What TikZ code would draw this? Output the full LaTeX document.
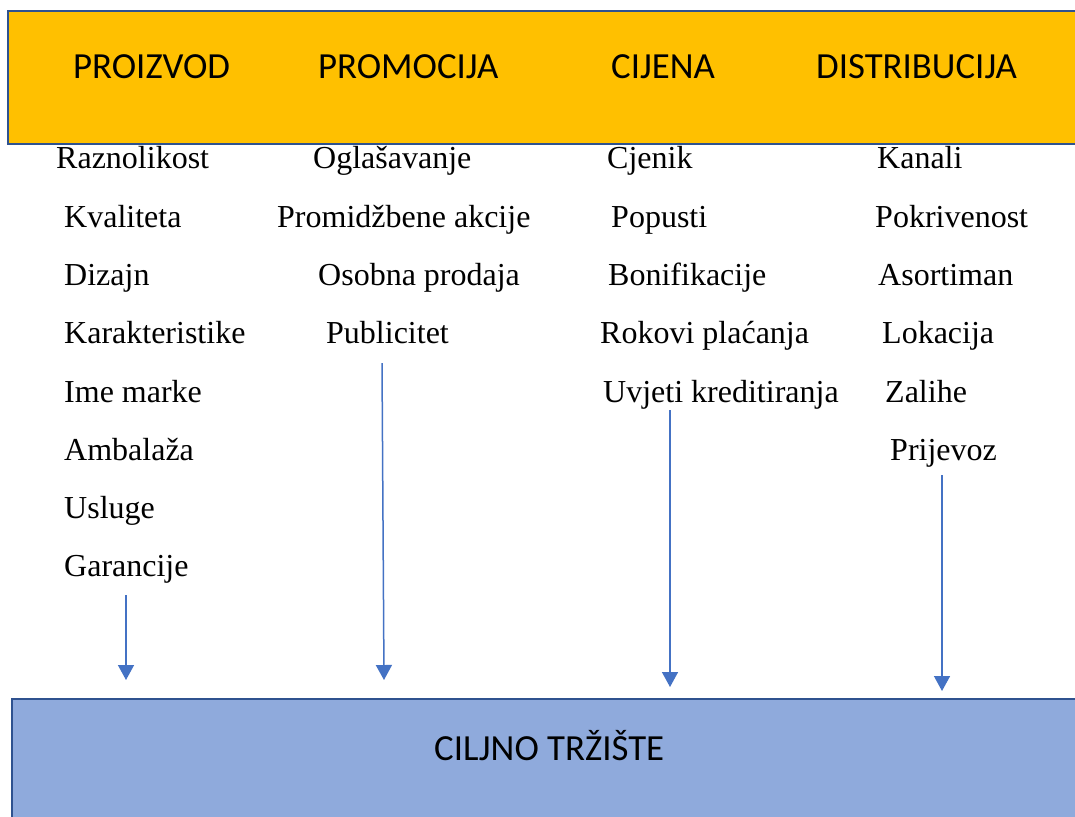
\documentclass[tikz,border=0pt]{standalone}
\usepackage{fontspec}
\setmainfont{Liberation Serif}
\newfontfamily\headfont{Carlito}
\usetikzlibrary{arrows.meta}
\definecolor{boxorange}{HTML}{FFC000}
\definecolor{boxblue}{HTML}{8FAADC}
\definecolor{boxline}{HTML}{2F528F}
\definecolor{arrowblue}{HTML}{4472C4}
\tikzset{
  head/.style={anchor=base west, inner sep=0pt, font=\headfont\fontsize{36.8}{40}\selectfont},
  item/.style={anchor=base west, inner sep=0pt, font=\fontsize{32}{36}\selectfont},
  band/.style={draw=boxline, line width=2.5pt},
  flow/.style={draw=arrowblue, line width=1.5pt, -{Triangle[width=16pt,length=15pt]}}
}
\begin{document}
\begin{tikzpicture}[x=1pt,y=-1pt]
\useasboundingbox (0,0) rectangle (1075,816);
\clip (0,0) rectangle (1075,816);
\fill[white] (0,0) rectangle (1075,816);
% top band
\draw[band, fill=boxorange] (8,11) rectangle (1090,144);
\node[head] (h1) at (73,78) {PROIZVOD};
\node[head] (h2) at (318,78) {PROMOCIJA};
\node[head] (h3) at (611,78) {CIJENA};
\node[head] (h4) at (816,78) {DISTRIBUCIJA};
% bottom band
\draw[band, fill=boxblue] (12,699) rectangle (1090,840);
\node[head] (target) at (434,760) {CILJNO TRŽIŠTE};
% column 1
\node[item] (a1) at (56,168) {Raznolikost};
\node[item] (a2) at (64,227) {Kvaliteta};
\node[item] (a3) at (64,285) {Dizajn};
\node[item] (a4) at (64,343) {Karakteristike};
\node[item] (a5) at (64,402) {Ime marke};
\node[item] (a6) at (64,460) {Ambalaža};
\node[item] (a7) at (64,518) {Usluge};
\node[item] (a8) at (64,576) {Garancije};
% column 2
\node[item] (b1) at (313,168) {Oglašavanje};
\node[item] (b2) at (277,227) {Promidžbene akcije};
\node[item] (b3) at (318,285) {Osobna prodaja};
\node[item] (b4) at (326,343) {Publicitet};
% column 3
\node[item] (c1) at (607,168) {Cjenik};
\node[item] (c2) at (611,227) {Popusti};
\node[item] (c3) at (608,285) {Bonifikacije};
\node[item] (c4) at (600,343) {Rokovi plaćanja};
\node[item] (c5) at (603,402) {Uvjeti kreditiranja};
% column 4
\node[item] (d1) at (877,168) {Kanali};
\node[item] (d2) at (875,227) {Pokrivenost};
\node[item] (d3) at (878,285) {Asortiman};
\node[item] (d4) at (882,343) {Lokacija};
\node[item] (d5) at (885,402) {Zalihe};
\node[item] (d6) at (890,460) {Prijevoz};
% arrows
\coordinate (s1) at (126,595); \coordinate (e1) at (126,680);
\coordinate (s2) at (382,363); \coordinate (e2) at (384,680);
\coordinate (s3) at (670,410); \coordinate (e3) at (670,687);
\coordinate (s4) at (942,475); \coordinate (e4) at (942,691);
\draw[flow] (s1) -- (e1);
\draw[flow] (s2) -- (e2);
\draw[flow] (s3) -- (e3);
\draw[flow] (s4) -- (e4);
\end{tikzpicture}
\end{document}
